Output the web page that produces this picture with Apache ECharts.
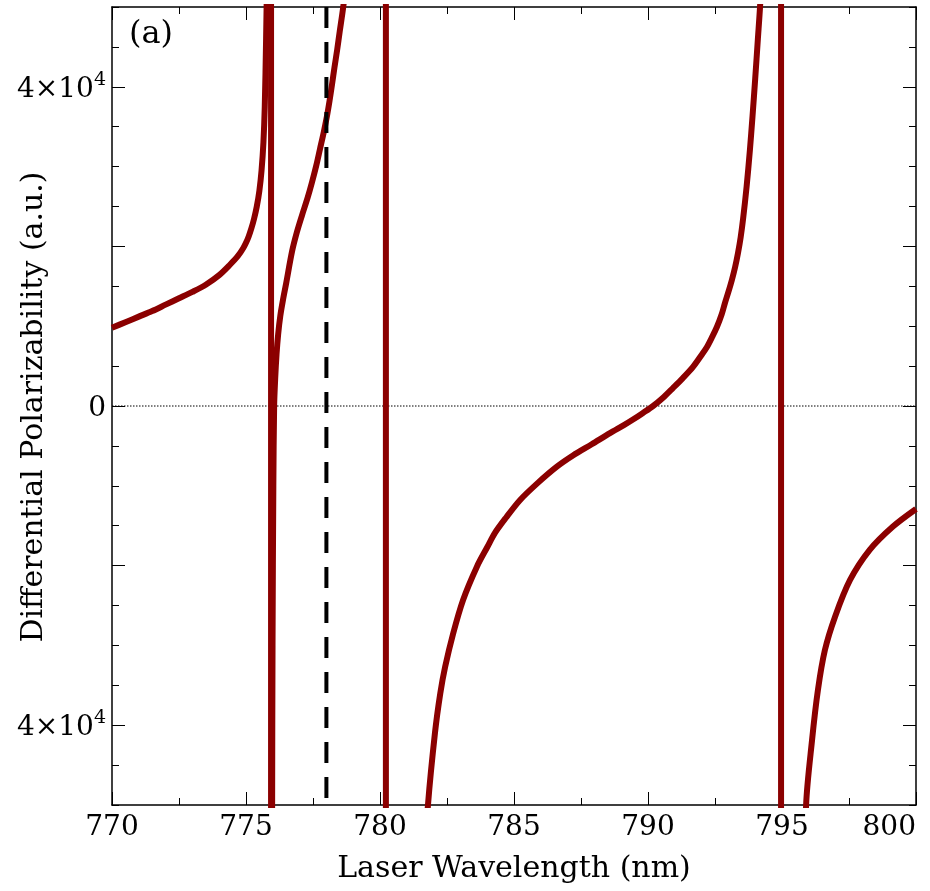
<!DOCTYPE html>
<html>
<head>
<meta charset="utf-8">
<script src="https://cdn.jsdelivr.net/npm/echarts@6/dist/echarts.min.js"></script>
<style>
html,body{margin:0;padding:0;background:#fff;}
#chart{width:930px;height:891px;}
</style>
</head>
<body>
<div id="chart"></div>
<script>
// ---- data ----
const wavelength = [
  770.0, 770.5, 771.0, 771.5, 772.0, 772.5, 773.0, 773.5, 774.0, 774.4, 774.7, 774.9, 775.0,
  775.1, 775.2, 775.3, 775.4, 775.5, 775.58, 775.65, 775.7, 775.75, 775.8, 775.86, 775.93,
  775.94, 775.96, 775.975, 775.99, 776.02, 776.05, 776.09, 776.14, 776.20, 776.28, 776.38,
  776.50, 776.72, 776.9, 777.09, 777.3, 777.46, 777.62, 777.76, 777.9, 778.02, 778.12,
  778.21, 778.30, 778.40, 778.50, 778.62, 778.75, 779.0, 779.3, 779.6, 779.9, 780.1, 780.21,
  780.23, 780.4, 780.7, 781.0, 781.3, 781.55, 781.79, 782.05, 782.25, 782.43, 782.73,
  783.10, 783.62, 784.0, 784.29, 784.7, 785.22, 785.9, 786.6, 787.2, 787.9, 788.58, 789.1,
  789.44, 789.8, 790.19, 790.55, 790.93, 791.3, 791.68, 792.0, 792.2, 792.4, 792.57, 792.75,
  792.87, 793.0, 793.13, 793.25, 793.36, 793.46, 793.55, 793.68, 793.8, 793.9, 794.0, 794.1,
  794.18, 794.3, 794.5, 794.7, 794.85, 794.96,
  794.97, 795.2, 795.5, 795.7, 795.9, 796.12, 796.34, 796.6, 796.98, 797.54, 798.28, 799.14, 800.0
];
const polarizability = [
  9800, 10500, 11200, 11900, 12700, 13500, 14300, 15200, 16400, 17700, 18800, 19800, 20450,
  21250, 22250, 23450, 24950, 27000, 29500, 33000, 37500, 46000, 58000, 90000, 3000000,
  -3000000, -100000, -50000, -30000, -10000, 0, 3500, 6500, 9000, 11300, 13300,
  15400, 19400, 21800, 23900, 26100, 28000, 30100, 32200, 34300, 36300, 38300,
  40300, 42400, 44600, 47000, 49800, 53500, 63000, 82000, 130000, 300000, 900000, 3000000,
  -3000000, -700000, -250000, -130000, -85000, -62000, -50000, -41000, -36000, -32700, -28500,
  -24300, -20100, -17700, -15900, -14000, -11800, -9600, -7600, -6200, -4800, -3400, -2400,
  -1700, -900, 0, 1000, 2250, 3500, 4900, 6400, 7400, 8700, 9900, 11500,
  12900, 14300, 15800, 17400, 19200, 21200, 23500, 27500, 32000, 36300, 41000, 46000,
  50000, 58000, 80000, 150000, 400000, 3000000,
  -3000000, -600000, -150000, -80000, -50000, -41900, -35600, -30600, -26400, -21800, -18000, -15100, -12900
];
const xRange = [770, 800];
const yRange = [-50000, 50000];
const xTickStep = 5;
const yMinorStep = 5000;
const yMajorTicks = [-40000, -20000, 0, 20000, 40000];
const yLabelValues = [-40000, 0, 40000];
const yLabelTexts = ['{a|4×10}{s|4}', '{a|0}', '{a|4×10}{s|4}'];
const markerWavelength = 778;
const zeroLevel = 0;
const xTitle = 'Laser Wavelength (nm)';
const yTitle = 'Differential Polarizability (a.u.)';
const panelLabel = '(a)';

// ---- chart ----
const FONT = 'DejaVu Serif';
const RED = '#8B0000';
const chart = echarts.init(document.getElementById('chart'), null, {renderer: 'canvas'});

// split the curve into its branches at the resonances (sign jumps through infinity)
const branches = [];
const poleLinks = [];
let cur = [];
for (let i = 0; i < wavelength.length; i++) {
  const p = [wavelength[i], polarizability[i]];
  if (cur.length && Math.abs(p[1] - cur[cur.length - 1][1]) > 1000000) {
    poleLinks.push([cur[cur.length - 1], p]);
    branches.push(cur);
    cur = [];
  }
  cur.push(p);
}
branches.push(cur);

function xAxisCfg(pos, withLabels) {
  return {
    type: 'value', position: pos, min: xRange[0], max: xRange[1], interval: xTickStep,
    axisLine: {show: true, onZero: false, lineStyle: {color: '#000', width: 1.5}},
    axisTick: {show: true, inside: true, length: 13, lineStyle: {color: '#000', width: 1}},
    minorTick: {show: true, splitNumber: 2, length: 7, lineStyle: {color: '#000', width: 1}},
    splitLine: {show: false}, minorSplitLine: {show: false},
    axisLabel: {show: withLabels, margin: 9, fontFamily: FONT, fontSize: 28, color: '#000', alignMaxLabel: 'right'},
    name: withLabels ? xTitle : '', nameLocation: 'middle', nameGap: 49, nameMoveOverlap: false,
    nameTextStyle: {fontFamily: FONT, fontSize: 30, color: '#000'}
  };
}
function yMinorAxis(pos, withLabels) {
  return {
    type: 'value', position: pos, min: yRange[0], max: yRange[1], interval: yMinorStep,
    axisLine: {show: true, onZero: false, lineStyle: {color: '#000', width: 1.5}},
    axisTick: {show: true, inside: true, length: 7, lineStyle: {color: '#000', width: 1}},
    splitLine: {show: false},
    axisLabel: {
      show: withLabels, margin: 6, color: '#000',
      formatter: function (v) {
        const k = yLabelValues.indexOf(v);
        return k >= 0 ? yLabelTexts[k] : '';
      },
      rich: {
        a: {fontFamily: FONT, fontSize: 28, color: '#000', lineHeight: 33, verticalAlign: 'bottom'},
        s: {fontFamily: FONT, fontSize: 19, color: '#000', lineHeight: 19, verticalAlign: 'top'}
      }
    }
  };
}
function yMajorAxis(pos) {
  return {
    type: 'value', position: pos, min: yRange[0], max: yRange[1],
    axisLine: {show: false},
    axisTick: {show: true, inside: true, length: 13, customValues: yMajorTicks, lineStyle: {color: '#000', width: 1}},
    axisLabel: {show: false, customValues: yMajorTicks},
    splitLine: {show: false}
  };
}

const series = [{
  type: 'line', xAxisIndex: 0, yAxisIndex: 0, z: 1,
  data: [[xRange[0], zeroLevel], [xRange[1], zeroLevel]],
  showSymbol: false, silent: true,
  lineStyle: {color: '#000', width: 1, type: [1.5, 1.5]}
}];
branches.forEach(b => series.push({
  type: 'line', xAxisIndex: 0, yAxisIndex: 0, z: 2,
  data: b, showSymbol: false, smooth: 0.3, clip: true, sampling: null,
  lineStyle: {color: RED, width: 6, cap: 'butt', join: 'round'}
}));
poleLinks.forEach(l => series.push({
  type: 'line', xAxisIndex: 0, yAxisIndex: 0, z: 2,
  data: l, showSymbol: false, smooth: false, clip: true,
  lineStyle: {color: RED, width: 6, cap: 'butt'}
}));
series.push({
  type: 'line', xAxisIndex: 0, yAxisIndex: 0, z: 3,
  data: [[markerWavelength, yRange[1]], [markerWavelength, yRange[0]]],
  showSymbol: false, silent: true, clip: false,
  lineStyle: {color: '#000', width: 4, type: [21, 14], cap: 'butt'}
});

chart.setOption({
  animation: false,
  backgroundColor: '#fff',
  grid: {left: 112, right: 14, top: 7, bottom: 86, containLabel: false, outerBoundsMode: 'none'},
  xAxis: [xAxisCfg('bottom', true), xAxisCfg('top', false)],
  yAxis: [yMinorAxis('left', true), yMinorAxis('right', false), yMajorAxis('left'), yMajorAxis('right')],
  graphic: [{
    type: 'text', left: 129, top: 19, z: 100,
    style: {text: panelLabel, font: '32px "DejaVu Serif"', fill: '#000'}
  }, {
    type: 'text', x: 34, y: 407, rotation: Math.PI / 2, z: 100,
    style: {text: yTitle, font: '30px "DejaVu Serif"', fill: '#000', align: 'center', verticalAlign: 'middle'}
  }],
  series: series
});
</script>
</body>
</html>
